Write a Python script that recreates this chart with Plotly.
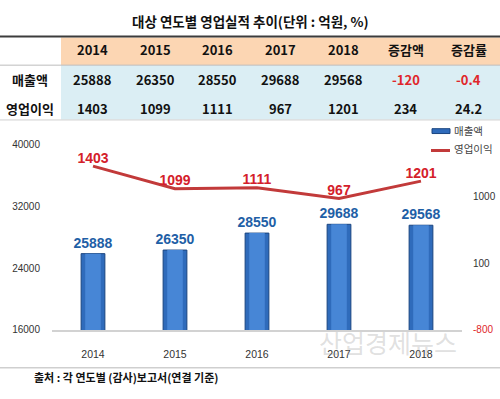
import plotly.graph_objects as go

# ---------------- data ----------------
years = ["2014", "2015", "2016", "2017", "2018"]
sales = [25888, 26350, 28550, 29688, 29568]
profit = [1403, 1099, 1111, 967, 1201]

table_header = ["2014", "2015", "2016", "2017", "2018", "증감액", "증감률"]
row_labels = ["매출액", "영업이익"]
sales_row = ["25888", "26350", "28550", "29688", "29568", "-120", "-0.4"]
profit_row = ["1403", "1099", "1111", "967", "1201", "234", "24.2"]

left_ticks = [16000, 24000, 32000, 40000]
right_ticks = [-800, 100, 1000]

title_text = "대상 연도별 영업실적 추이(단위 : 억원, %)"
source_text = "출처 : 각 연도별 (감사)보고서(연결 기준)"
legend_names = ["매출액", "영업이익"]
watermark = "산업경제뉴스"

# ---------------- helpers ----------------
W, H = 500, 399
KR = "Noto Sans CJK KR, Noto Sans, sans-serif"
NARROW = "Liberation Sans Narrow, Arial Narrow, Liberation Sans, Arial, sans-serif"
AXF = "Liberation Sans, Arial, sans-serif"


def px(x):
    return x / W


def py(y):
    return 1 - y / H


RED = "#e0262a"
BAR = "#2f6bbb"
BAR_HI = "#4786d6"
BAR_EDGE = "#1b4580"
LINE = "#c23a3a"

fig = go.Figure()

fig.add_trace(go.Bar(
    x=years, y=sales, width=0.29,
    marker=dict(color=BAR, line=dict(color=BAR_EDGE, width=1)),
    text=[str(v) for v in sales], textposition="outside", constraintext="none",
    textfont=dict(family=NARROW, size=14, color="#1f5fa6", weight="bold"),
    cliponaxis=False, yaxis="y", name=legend_names[0],
))
# lighter centre of the bars (gradient look)
fig.add_trace(go.Bar(
    x=years, y=sales, width=0.19,
    marker=dict(color=BAR_HI, line=dict(width=0)),
    hoverinfo="skip", yaxis="y", showlegend=False,
))

fig.add_trace(go.Scatter(
    x=years, y=profit, mode="lines+text",
    line=dict(color=LINE, width=3),
    text=[str(v) for v in profit], textposition="top center",
    textfont=dict(family=NARROW, size=14, color="#d4202a", weight="bold"),
    cliponaxis=False, yaxis="y2", name=legend_names[1],
))

right_text = [
    f"<span style='color:{RED}'>{v}</span>" if v < 0 else str(v)
    for v in right_ticks
]

fig.update_layout(
    width=W, height=H,
    margin=dict(l=0, r=0, t=0, b=0),
    paper_bgcolor="white", plot_bgcolor="white",
    showlegend=False, barmode="overlay",
    xaxis=dict(
        domain=[px(52), px(462)], type="category", range=[-0.5, 4.5],
        showline=True, linecolor="#d2d2d2", linewidth=2,
        showgrid=False, ticks="", ticklabelstandoff=13,
        tickfont=dict(family=AXF, size=10.5, color="#333"),
    ),
    yaxis=dict(
        domain=[py(334), py(143)], range=[16000, 40000],
        tickvals=left_ticks, ticktext=[str(v) for v in left_ticks],
        showgrid=False, zeroline=False, showline=False,
        ticks="", ticklabelstandoff=11,
        tickfont=dict(family=AXF, size=10, color="#333"),
    ),
    yaxis2=dict(
        overlaying="y", side="right", anchor="x", range=[-800, 1691],
        tickvals=right_ticks, ticktext=right_text,
        showgrid=False, zeroline=False, showline=False,
        ticks="", ticklabelstandoff=10,
        tickfont=dict(family=AXF, size=10, color="#333"),
    ),
)

shapes = []
# table backgrounds
shapes.append(dict(type="rect", xref="paper", yref="paper",
                   x0=px(61), x1=px(500), y0=py(61), y1=py(32.5),
                   fillcolor="#fcd6b3", line=dict(width=0), layer="below"))
shapes.append(dict(type="rect", xref="paper", yref="paper",
                   x0=px(61), x1=px(500), y0=py(117), y1=py(61),
                   fillcolor="#dbeef4", line=dict(width=0), layer="below"))
# table lines
shapes.append(dict(type="line", xref="paper", yref="paper",
                   x0=0, x1=1, y0=py(31.5), y1=py(31.5),
                   line=dict(color="#3c3c3c", width=2)))
shapes.append(dict(type="line", xref="paper", yref="paper",
                   x0=0, x1=1, y0=py(61), y1=py(61),
                   line=dict(color="#bdbdbd", width=1)))
shapes.append(dict(type="line", xref="paper", yref="paper",
                   x0=0, x1=1, y0=py(117.5), y1=py(117.5),
                   line=dict(color="#d0d0d0", width=1)))
# bottom separator
shapes.append(dict(type="line", xref="paper", yref="paper",
                   x0=0, x1=1, y0=py(373), y1=py(373),
                   line=dict(color="#cfcfcf", width=1.5)))
# legend symbols
shapes.append(dict(type="rect", xref="paper", yref="paper",
                   x0=px(432), x1=px(450), y0=py(131.5), y1=py(126.5),
                   fillcolor=BAR, line=dict(color=BAR_EDGE, width=1)))
shapes.append(dict(type="line", xref="paper", yref="paper",
                   x0=px(431), x1=px(450), y0=py(149), y1=py(149),
                   line=dict(color=LINE, width=3)))
fig.update_layout(shapes=shapes)

ann = []
ann.append(dict(text=f"<b>{title_text}</b>", x=px(250), y=py(15),
                xref="paper", yref="paper", showarrow=False,
                xanchor="center", yanchor="middle",
                font=dict(family=KR, size=13.5, color="#111")))

col0 = 61
colw = (500 - 61) / 7
row_y = [45, 75.5, 105.5]
for j, h in enumerate(table_header):
    ann.append(dict(text=f"<b>{h}</b>", x=px(col0 + colw * (j + 0.5)), y=py(row_y[0]),
                    xref="paper", yref="paper", showarrow=False,
                    xanchor="center", yanchor="middle",
                    font=dict(family=KR, size=13, color="#111")))
for i, row in enumerate([sales_row, profit_row]):
    ann.append(dict(text=f"<b>{row_labels[i]}</b>", x=px(30), y=py(row_y[i + 1]),
                    xref="paper", yref="paper", showarrow=False,
                    xanchor="center", yanchor="middle",
                    font=dict(family=KR, size=13, color="#111")))
    for j, v in enumerate(row):
        ann.append(dict(text=f"<b>{v}</b>", x=px(col0 + colw * (j + 0.5)), y=py(row_y[i + 1]),
                        xref="paper", yref="paper", showarrow=False,
                        xanchor="center", yanchor="middle",
                        font=dict(family=KR, size=13,
                                  color=RED if v.startswith("-") else "#111")))

# legend texts
ann.append(dict(text=legend_names[0], x=px(452), y=py(128.5), xref="paper", yref="paper",
                showarrow=False, xanchor="left", yanchor="middle",
                font=dict(family=KR, size=10.5, color="#444")))
ann.append(dict(text=legend_names[1], x=px(452), y=py(147), xref="paper", yref="paper",
                showarrow=False, xanchor="left", yanchor="middle",
                font=dict(family=KR, size=10.5, color="#444")))

# source
ann.append(dict(text=f"<b>{source_text}</b>", x=px(32), y=py(383), xref="paper", yref="paper",
                showarrow=False, xanchor="left", yanchor="middle",
                font=dict(family=KR, size=11, color="#111")))

# watermark
ann.append(dict(text=watermark, x=px(388), y=py(346), xref="paper", yref="paper",
                showarrow=False, xanchor="center", yanchor="middle",
                font=dict(family=KR, size=25, color="rgba(150,150,150,0.3)")))

fig.update_layout(annotations=ann)

fig.write_html(
    "out.html",
    config={"displayModeBar": False},
    post_script="document.body.style.margin='0';document.body.style.padding='0';"
                "document.body.style.overflow='hidden';",
)
